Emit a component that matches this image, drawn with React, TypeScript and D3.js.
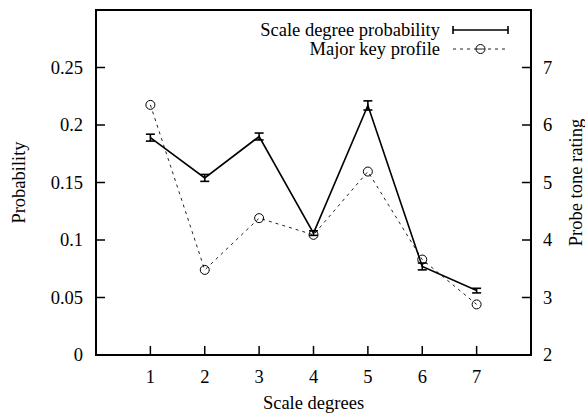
import React from "react";
import * as d3 from "d3";

const degrees = [1, 2, 3, 4, 5, 6, 7];
const probability = [0.189, 0.154, 0.19, 0.106, 0.217, 0.077, 0.056];
const probErr = [0.003, 0.003, 0.003, 0.002, 0.004, 0.003, 0.002];
const profile = [6.35, 3.48, 4.38, 4.09, 5.19, 3.66, 2.88];
const leftTicks = [0, 0.05, 0.1, 0.15, 0.2, 0.25];
const leftTickLabels = ["0", "0.05", "0.1", "0.15", "0.2", "0.25"];
const rightTicks = [2, 3, 4, 5, 6, 7];
const xTicks = [1, 2, 3, 4, 5, 6, 7];

const W = 585;
const H = 415;
const L = 96, R = 531, T = 10, B = 355;
const FONT = "'Liberation Serif', 'Times New Roman', serif";

export default function App() {
  const x = d3.scaleLinear().domain([0, 8]).range([L, R]);
  const yL = d3.scaleLinear().domain([0, 0.3]).range([B, T]);
  const yR = d3.scaleLinear().domain([2, 8]).range([B, T]);

  const solid = d3.line<number>().x((_, i) => x(degrees[i])).y((d) => yL(d));
  const dashed = d3.line<number>().x((_, i) => x(degrees[i])).y((d) => yR(d));
  const cap = 4.5;
  const fs = 18.5;
  const ts = { fontFamily: FONT, fontSize: fs };

  return (
    <svg width={W} height={H} style={{ position: "absolute", left: 0, top: 0, background: "#fff" }}>
      <rect x={0} y={0} width={W} height={H} fill="#fff" />
      {leftTicks.map((t, i) => (
        <g key={"l" + i}>
          <line x1={L} x2={L + 9} y1={yL(t)} y2={yL(t)} stroke="#000" strokeWidth={1.5} />
          <text x={83} y={yL(t) + 6} textAnchor="end" style={ts}>{leftTickLabels[i]}</text>
        </g>
      ))}
      {rightTicks.map((t, i) => (
        <g key={"r" + i}>
          <line x1={R - 9} x2={R} y1={yR(t)} y2={yR(t)} stroke="#000" strokeWidth={1.5} />
          <text x={543} y={yR(t) + 6} textAnchor="start" style={ts}>{t}</text>
        </g>
      ))}
      {xTicks.map((t, i) => (
        <g key={"x" + i}>
          <line x1={x(t)} x2={x(t)} y1={B} y2={B - 9} stroke="#000" strokeWidth={1.5} />
          <text x={x(t)} y={383} textAnchor="middle" style={ts}>{t}</text>
        </g>
      ))}
      <path d={dashed(profile) || ""} fill="none" stroke="#222" strokeWidth={1} strokeDasharray="3,4" />
      {profile.map((v, i) => (
        <circle key={"c" + i} cx={x(degrees[i])} cy={yR(v)} r={4.5} fill="none" stroke="#000" strokeWidth={1} />
      ))}
      <path d={solid(probability) || ""} fill="none" stroke="#000" strokeWidth={1.6} />
      {probability.map((v, i) => {
        const cx = x(degrees[i]);
        const y1 = yL(v + probErr[i]);
        const y2 = yL(v - probErr[i]);
        return (
          <g key={"e" + i} stroke="#000" strokeWidth={1.6}>
            <line x1={cx} x2={cx} y1={y1} y2={y2} />
            <line x1={cx - cap} x2={cx + cap} y1={y1} y2={y1} />
            <line x1={cx - cap} x2={cx + cap} y1={y2} y2={y2} />
          </g>
        );
      })}
      <text x={440} y={36} textAnchor="end" style={ts}>Scale degree probability</text>
      <g stroke="#000" strokeWidth={1.6}>
        <line x1={453} x2={508} y1={30} y2={30} />
        <line x1={453} x2={453} y1={26} y2={34} />
        <line x1={508} x2={508} y1={26} y2={34} />
      </g>
      <text x={440} y={55} textAnchor="end" style={ts}>Major key profile</text>
      <line x1={453} x2={508} y1={49} y2={49} stroke="#222" strokeWidth={1} strokeDasharray="3,4" />
      <circle cx={480.5} cy={49} r={4.5} fill="#fff" stroke="#000" strokeWidth={1} />
      <line x1={476} x2={485} y1={49} y2={49} stroke="#222" strokeWidth={1} />
      <rect x={L} y={T} width={R - L} height={B - T} fill="none" stroke="#000" strokeWidth={2} />
      <text x={313.5} y={409} textAnchor="middle" style={ts}>Scale degrees</text>
      <text transform={`translate(25, ${(T + B) / 2}) rotate(-90)`} textAnchor="middle" style={ts}>Probability</text>
      <text transform={`translate(582, ${(T + B) / 2}) rotate(-90)`} textAnchor="middle" style={ts}>Probe tone rating</text>
    </svg>
  );
}
